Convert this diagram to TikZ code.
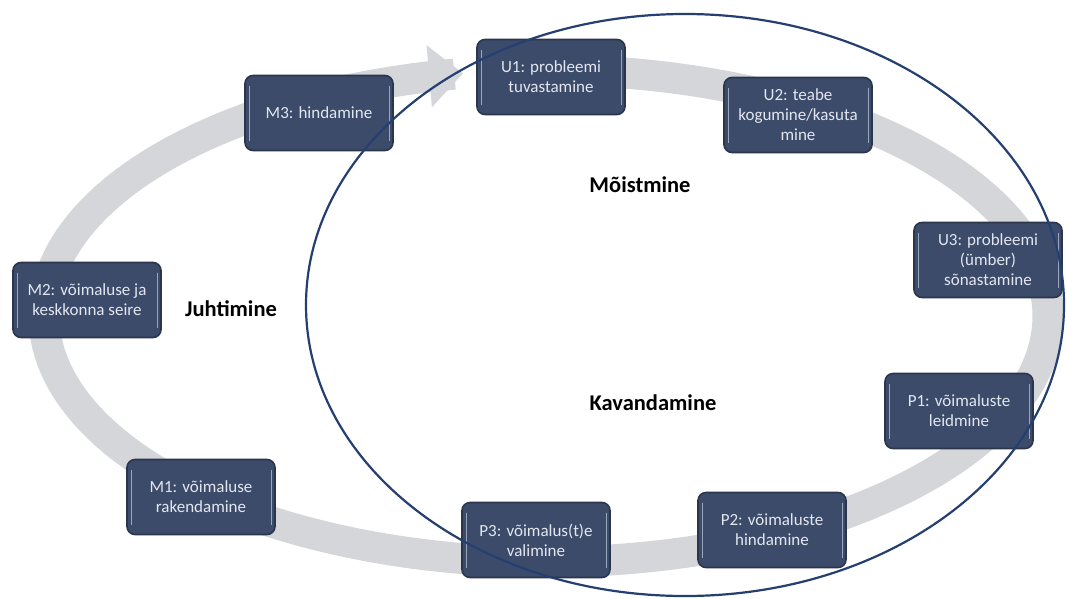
\documentclass[tikz,border=0pt]{standalone}
\usepackage{fontspec}
\setmainfont{Carlito}
\usetikzlibrary{arrows.meta}
\definecolor{bandgrey}{HTML}{D4D6D9}
\definecolor{boxfill}{HTML}{3D4B6B}
\definecolor{boxedge}{HTML}{2B354C}
\definecolor{boxtext}{HTML}{E2E6EE}
\definecolor{hilite}{HTML}{9AA6BE}
\definecolor{ringblue}{HTML}{243F70}
\tikzset{
  stage/.style={rounded corners=8pt, fill=boxfill, draw=boxedge, line width=1.6pt,
    minimum width=148pt, minimum height=75pt, text=boxtext, align=center,
    font=\fontsize{17}{20}\selectfont, inner sep=2pt,
    path picture={
      \draw[hilite, line width=1pt]
        ([xshift=4pt,yshift=-10pt]path picture bounding box.north west) --
        ([xshift=4pt,yshift=10pt]path picture bounding box.south west);
      \draw[hilite, line width=1pt]
        ([xshift=-4pt,yshift=-10pt]path picture bounding box.north east) --
        ([xshift=-4pt,yshift=10pt]path picture bounding box.south east);
    }},
  phase/.style={font=\bfseries\fontsize{22.5}{26}\selectfont, text=black},
  band/.style={draw=bandgrey, line width=31pt},
  ring/.style={draw=ringblue, line width=2.2pt}
}
\begin{document}
\begin{tikzpicture}[x=1pt,y=-1pt]
\useasboundingbox (0,0) rectangle (1067,598);
\fill[white] (0,0) rectangle (1067,598);
% grey cycle band with arrow head
\draw[band, -{Triangle[width=60pt,length=34pt]}]
  plot[domain=-88:260.5, samples=240, smooth] ({546+502*cos(\x)}, {316+246*sin(\x)});
% stage boxes
\node[stage] (U1) at (551,77) {U1: probleemi\\tuvastamine};
\node[stage] (U2) at (798,115) {U2: teabe\\kogumine/kasuta\\mine};
\node[stage] (U3) at (988,260) {U3: probleemi\\(ümber)\\sõnastamine};
\node[stage] (P1) at (959,411) {P1: võimaluste\\leidmine};
\node[stage] (P2) at (772,530) {P2: võimaluste\\hindamine};
\node[stage] (P3) at (536,540) {P3: võimalus(t)e\\valimine};
\node[stage] (M1) at (201,497) {M1: võimaluse\\rakendamine};
\node[stage] (M2) at (87,300) {M2: võimaluse ja\\keskkonna seire};
\node[stage] (M3) at (319,113) {M3: hindamine};
% phase labels
\node[phase] (L1) at (640,185) {Mõistmine};
\node[phase] (L2) at (653,403) {Kavandamine};
\node[phase] (L3) at (231,309) {Juhtimine};
% blue ellipse
\draw[ring] (685,305) ellipse [x radius=379, y radius=291];
\end{tikzpicture}
\end{document}
